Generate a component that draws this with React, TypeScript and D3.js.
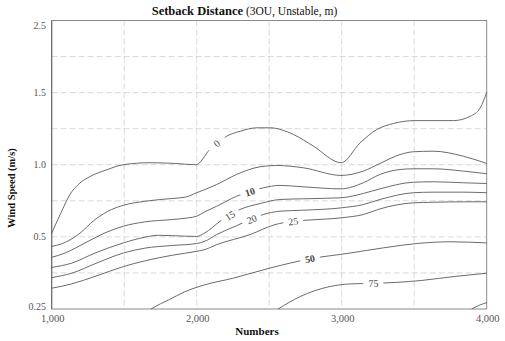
import React from 'react';
import * as d3 from 'd3';

// ---------- data ----------
const xTickValues = [1000, 2000, 3000, 4000];
const xTickLabels = ['1,000', '2,000', '3,000', '4,000'];
const xGridValues = [1500, 2000, 2500, 3000, 3500];
const yTickValues = [0.25, 0.5, 1.0, 1.5, 2.5];
const yTickLabels = ['0.25', '0.5', '1.0', '1.5', '2.5'];
const yGridValues = [0.375, 0.5, 0.75, 1.0, 1.25, 1.5, 2.0];

const level0: [number, number][] = [
  [1000, 0.525], [1069, 0.678], [1126, 0.794], [1183, 0.863], [1264, 0.918], [1380, 0.965],
  [1492, 1.0], [1678, 1.014], [1850, 1.009], [1995, 1.0], [2091, 1.106], [2138, 1.147],
  [2207, 1.198], [2299, 1.232], [2414, 1.256], [2506, 1.256], [2667, 1.21], [2805, 1.129],
  [2996, 1.014], [3127, 1.152], [3242, 1.244], [3357, 1.286], [3502, 1.306], [3771, 1.306],
  [3886, 1.336], [3955, 1.394], [4000, 1.502],
];
const level5: [number, number][] = [
  [1000, 0.467], [1069, 0.476], [1183, 0.516], [1299, 0.62], [1414, 0.69], [1494, 0.719],
  [1643, 0.747], [1828, 0.766], [1919, 0.775], [2000, 0.806], [2057, 0.828], [2138, 0.863],
  [2276, 0.933], [2437, 0.986], [2552, 0.995], [2735, 0.979], [2995, 0.926], [3149, 0.956],
  [3264, 1.009], [3403, 1.071], [3494, 1.09], [3632, 1.094], [3839, 1.059], [4000, 1.009],
];
const level10: [number, number][] = [
  [1000, 0.429], [1092, 0.444], [1230, 0.479], [1368, 0.528], [1494, 0.574], [1643, 0.604],
  [1828, 0.62], [1942, 0.632], [2000, 0.643], [2057, 0.674], [2138, 0.7125], [2276, 0.782],
  [2459, 0.84], [2574, 0.857], [2735, 0.847], [2995, 0.833], [3149, 0.875], [3264, 0.933],
  [3403, 0.967], [3494, 0.972], [3632, 0.972], [3839, 0.956], [4000, 0.938],
];
const level15: [number, number][] = [
  [1000, 0.394], [1138, 0.409], [1299, 0.444], [1494, 0.479], [1643, 0.499], [1735, 0.511],
  [1919, 0.505], [2000, 0.503], [2057, 0.528], [2161, 0.608], [2299, 0.69], [2437, 0.731],
  [2574, 0.759], [2735, 0.764], [2995, 0.771], [3149, 0.801], [3264, 0.833], [3494, 0.879],
  [3632, 0.882], [3839, 0.875], [4000, 0.87],
];
const level20: [number, number][] = [
  [1000, 0.359], [1138, 0.374], [1299, 0.407], [1494, 0.444], [1643, 0.461], [1828, 0.47],
  [2000, 0.477], [2057, 0.485], [2138, 0.516], [2276, 0.578], [2459, 0.655], [2574, 0.678],
  [2735, 0.685], [2995, 0.701], [3149, 0.724], [3264, 0.759], [3494, 0.806], [3632, 0.81],
  [3839, 0.81], [4000, 0.806],
];
const level25: [number, number][] = [
  [1000, 0.322], [1138, 0.337], [1299, 0.363], [1494, 0.397], [1643, 0.417], [1828, 0.436],
  [2000, 0.45], [2057, 0.456], [2138, 0.473], [2368, 0.516], [2540, 0.585], [2666, 0.608],
  [2747, 0.615], [2995, 0.632], [3149, 0.655], [3264, 0.694], [3494, 0.736], [3632, 0.74],
  [3839, 0.743], [4000, 0.743],
];
const level50: [number, number][] = [
  [1685, 0.25], [1750, 0.268], [1804, 0.281], [1919, 0.31], [2057, 0.334], [2253, 0.357],
  [2506, 0.392], [2783, 0.424], [3058, 0.444], [3288, 0.462], [3518, 0.477], [3747, 0.483],
  [4000, 0.479],
];
const level75: [number, number][] = [
  [2561, 0.25], [2713, 0.293], [2920, 0.328], [3058, 0.337], [3230, 0.339], [3368, 0.342],
  [3552, 0.349], [3782, 0.363], [4000, 0.374],
];
const level100: [number, number][] = [
  [3897, 0.25], [3954, 0.264], [4000, 0.272],
];

const contourNames = ['0', '5', '10', '15', '20', '25', '50', '75', '100'];
const contourData = [level0, level5, level10, level15, level20, level25, level50, level75, level100];

const labelLevels = ['0', '10', '15', '20', '25', '50', '75'];
const labelAt = [2138, 2368, 2230, 2379, 2666, 2781, 3218];
const boldLabels = ['10', '50'];

// ---------- layout ----------
const W = 505;
const H = 341;
const left = 51.7;
const right = 486.7;
const top = 20.5;
const bottom = 309;
const serif = "'Liberation Serif', 'Times New Roman', Times, serif";

export default function App() {
  const x = d3.scaleLinear().domain([1000, 4000]).range([left, right]);
  const yRange = yTickValues.map((_, i) => bottom - (i * (bottom - top)) / (yTickValues.length - 1));
  const y = d3.scaleLinear().domain(yTickValues).range(yRange);

  const line = d3
    .line<[number, number]>()
    .x((d) => x(d[0]))
    .y((d) => y(d[1]))
    .curve(d3.curveMonotoneX);

  const interp = (pts: [number, number][], px: number) => {
    for (let i = 0; i < pts.length - 1; i++) {
      const [x0, y0] = pts[i];
      const [x1, y1] = pts[i + 1];
      if (px >= x0 && px <= x1) {
        const t = (px - x0) / (x1 - x0);
        return y0 + t * (y1 - y0);
      }
    }
    return pts[pts.length - 1][1];
  };

  const labels = labelLevels.map((lv, i) => {
    const data = contourData[contourNames.indexOf(lv)];
    const pts = data.map((d) => [x(d[0]), y(d[1])] as [number, number]);
    const px = x(labelAt[i]);
    const py = interp(pts, px);
    const ya = interp(pts, px - 5);
    const yb = interp(pts, px + 5);
    const angle = (Math.atan2(yb - ya, 10) * 180) / Math.PI;
    return { lv, px, py, angle, bold: boldLabels.includes(lv) };
  });

  return (
    <svg width={W} height={H} style={{ position: 'absolute', left: 0, top: 0, background: '#fff' }}>
      <defs>
        <mask id="labelGaps" maskUnits="userSpaceOnUse" x={0} y={0} width={W} height={H}>
          <rect x={0} y={0} width={W} height={H} fill="white" />
          {labels.map((l, i) => (
            <rect
              key={i}
              x={-10}
              y={-6}
              width={20}
              height={12}
              fill="black"
              transform={`translate(${l.px},${l.py}) rotate(${l.angle})`}
            />
          ))}
        </mask>
      </defs>

      {/* grid */}
      <g stroke="#cfcfcf" strokeWidth={0.8} strokeDasharray="6,3">
        {xGridValues.map((v) => (
          <line key={'gx' + v} x1={x(v)} x2={x(v)} y1={top} y2={bottom} />
        ))}
        {yGridValues.map((v) => (
          <line key={'gy' + v} x1={left} x2={right} y1={y(v)} y2={y(v)} />
        ))}
      </g>

      {/* frame */}
      <rect x={left} y={top} width={right - left} height={bottom - top} fill="none" stroke="#8a8a8a" strokeWidth={1} />
      <line x1={left} x2={left} y1={top} y2={bottom} stroke="#666" strokeWidth={1} />

      {/* contours */}
      <g mask="url(#labelGaps)" fill="none" stroke="#5a5a5a" strokeWidth={0.9}>
        {contourData.map((d, i) => (
          <path key={contourNames[i]} d={line(d) || ''} />
        ))}
      </g>

      {/* contour labels */}
      {labels.map((l, i) => (
        <text
          key={'lab' + i}
          transform={`translate(${l.px},${l.py}) rotate(${l.angle})`}
          textAnchor="middle"
          dy="0.35em"
          fontFamily={serif}
          fontSize={10}
          fontWeight={l.bold ? 'bold' : 'normal'}
          fill="#444"
        >
          {l.lv}
        </text>
      ))}

      {/* y tick labels */}
      {yTickValues.map((v, i) => {
        let off = 0;
        if (i === yTickValues.length - 1) off = 4.5;
        if (i === 0) off = -3;
        return (
          <text
            key={'yt' + v}
            x={46}
            y={y(v) + off}
            dy="0.35em"
            textAnchor="end"
            fontFamily={serif}
            fontSize={10}
            fill="#555"
          >
            {yTickLabels[i]}
          </text>
        );
      })}

      {/* x tick labels */}
      {xTickValues.map((v, i) => (
        <text
          key={'xt' + v}
          x={x(v) + 1}
          y={322}
          textAnchor="middle"
          fontFamily={serif}
          fontSize={10.5}
          fill="#555"
        >
          {xTickLabels[i]}
        </text>
      ))}

      {/* title */}
      <text x={151.7} y={15} fontFamily={serif} fill="#111">
        <tspan fontWeight="bold" fontSize={12.5}>Setback Distance</tspan>
        <tspan fontSize={11.5}>{' (3OU, Unstable, m)'}</tspan>
      </text>

      {/* axis titles */}
      <text x={257} y={335} textAnchor="middle" fontFamily={serif} fontWeight="bold" fontSize={11} fill="#111">
        Numbers
      </text>
      <text
        transform="translate(15,188) rotate(-90)"
        textAnchor="middle"
        fontFamily={serif}
        fontWeight="bold"
        fontSize={10.5}
        fill="#111"
      >
        Wind Speed (m/s)
      </text>
    </svg>
  );
}
